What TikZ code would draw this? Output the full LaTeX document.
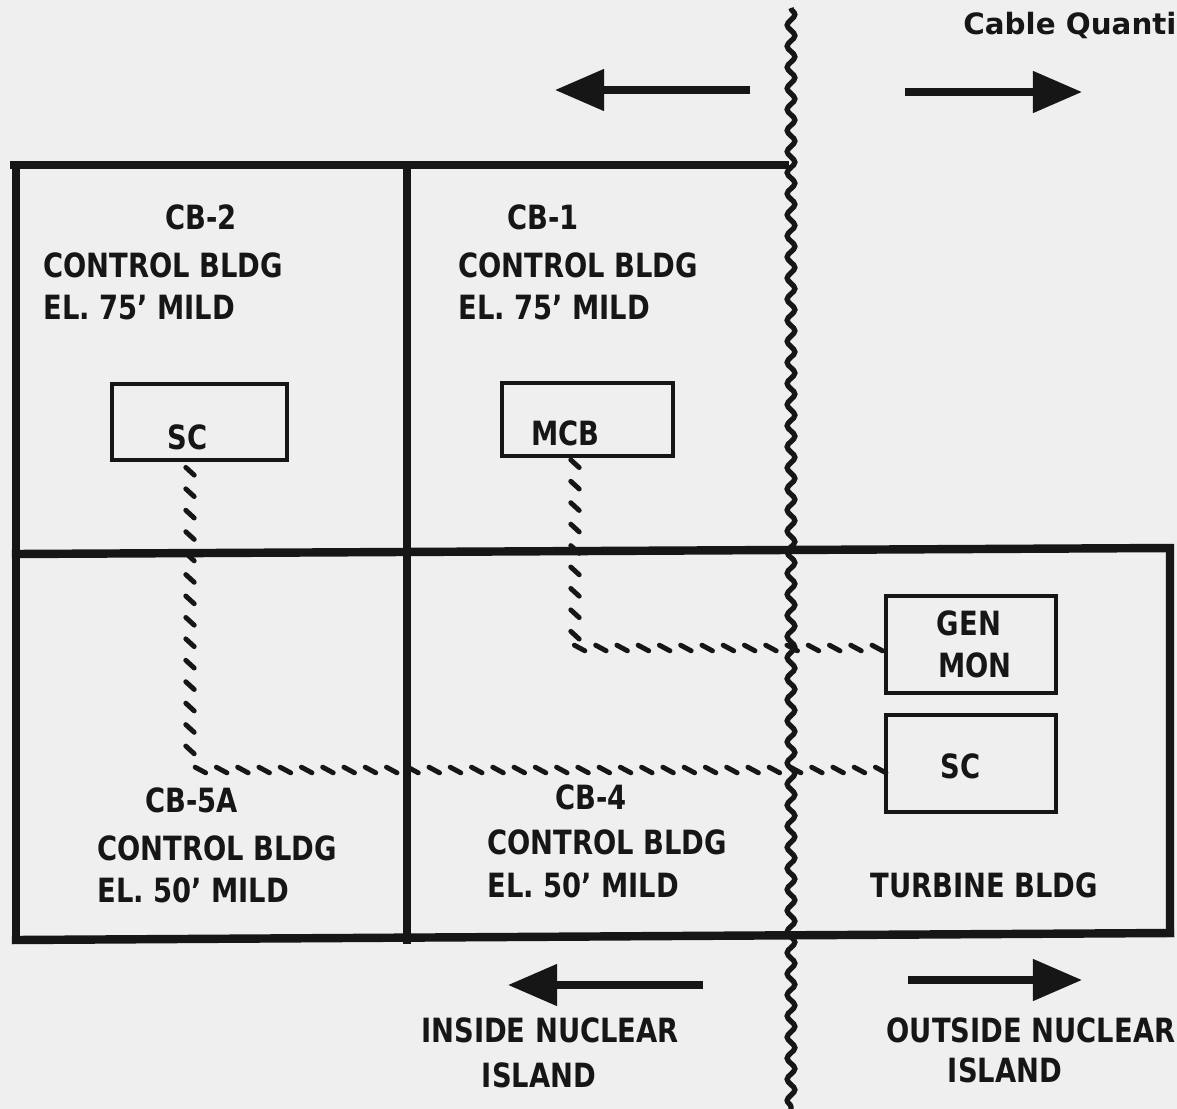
\documentclass[tikz,border=0pt]{standalone}
\usepackage{fontspec}
\setmainfont{DejaVu Sans}[FakeStretch=0.82]
\newfontfamily\capfont{DejaVu Sans}
\usetikzlibrary{arrows.meta,decorations.pathmorphing,decorations.markings}
\definecolor{paper}{RGB}{239,239,239}
\definecolor{ink}{RGB}{22,22,22}
\begin{document}
\begin{tikzpicture}[x=0.02cm,y=-0.02cm,
  wall/.style={draw=ink,line width=4.8pt,line cap=rect},
  boxnode/.style={draw=ink,line width=2.3pt,rectangle,inner sep=0pt},
  lbl/.style={anchor=west,inner sep=0pt,text=ink,font=\bfseries\fontsize{19}{22}\selectfont},
  clbl/.style={anchor=center,inner sep=0pt,text=ink,font=\bfseries\fontsize{19}{22}\selectfont},
  bigarrow/.style={draw=ink,line width=4pt,-{Triangle[length=28pt,width=23pt]}},
  vcable/.style={decorate,decoration={markings,mark=between positions 0.03 and 1 step 12.2pt with {\pgftransformresetnontranslations\draw[ink,line width=2.8pt,line cap=round] (-2.4pt,2.2pt)--(2.4pt,-2.2pt);}}},
  hcable/.style={decorate,decoration={markings,mark=between positions 0.015 and 1 step 12.1pt with {\pgftransformresetnontranslations\draw[ink,line width=2.8pt,line cap=round] (-3pt,1.6pt)--(3pt,-1.6pt);}}},
  wavy/.style={draw=ink,line width=3pt,decorate,decoration={snake,segment length=12pt,amplitude=2.2pt}}
]
\fill[paper] (0,0) rectangle (1177,1109);
\useasboundingbox (0,0) rectangle (1177,1109);

% building walls
\draw[wall] (14,165) -- (785,165);
\draw[wall] (16,165) -- (16,940);
\draw[wall] (16,940) -- (1170,933);
\draw[wall] (16,554) -- (1170,548) -- (1170,933);
\draw[wall] (407,165) -- (407,940);

% equipment boxes
\node[boxnode,minimum width=3.5cm,minimum height=1.52cm] (sc2) at (199.5,422) {};
\node[boxnode,minimum width=3.42cm,minimum height=1.46cm] (mcb) at (587.5,419.5) {};
\node[boxnode,minimum width=3.4cm,minimum height=1.94cm] (gen) at (971,644.5) {};
\node[boxnode,minimum width=3.4cm,minimum height=1.94cm] (sc1) at (971,763.5) {};

% box texts
\node[lbl] (tsc2) at (167,437) {SC};
\node[lbl] (tmcb) at (531,433) {MCB};
\node[clbl] (tgen) at (969,623) {GEN};
\node[clbl] (tmon) at (975,665) {MON};
\node[lbl] (tsc1) at (940,766) {SC};

% cables
\coordinate (c1) at (190,770);
\coordinate (c2) at (575,648);
\path[vcable] (sc2.south -| c1) -- (c1);
\path[hcable] (c1) -- (sc1.west |- c1);
\path[vcable] (mcb.south -| c2) -- (c2);
\path[hcable] (c2) -- (gen.west |- c2);

% boundary
\coordinate (w1) at (791,8);
\coordinate (w2) at (791,1112);
\draw[wavy] (w1) -- (w2);

% arrows
\coordinate (a1s) at (750,90); \coordinate (a1e) at (555,90);
\coordinate (a2s) at (905,92); \coordinate (a2e) at (1082,92);
\coordinate (a3s) at (703,985); \coordinate (a3e) at (508,985);
\coordinate (a4s) at (908,980); \coordinate (a4e) at (1082,980);
\draw[bigarrow] (a1s) -- (a1e);
\draw[bigarrow] (a2s) -- (a2e);
\draw[bigarrow] (a3s) -- (a3e);
\draw[bigarrow] (a4s) -- (a4e);

% title
\node[anchor=west,inner sep=0pt,text=ink,font=\capfont\bfseries\fontsize{16.7}{20}\selectfont] (title) at (963,25) {Cable Quanti};

% room labels
\node[lbl] (cb2a) at (165,217) {CB-2};
\node[lbl] (cb2b) at (43,265) {CONTROL BLDG};
\node[lbl] (cb2c) at (43,308) {EL. 75' MILD};
\node[lbl] (cb1a) at (507,217) {CB-1};
\node[lbl] (cb1b) at (458,265) {CONTROL BLDG};
\node[lbl] (cb1c) at (458,308) {EL. 75' MILD};
\node[lbl] (cb5a) at (145,800) {CB-5A};
\node[lbl] (cb5b) at (97,848) {CONTROL BLDG};
\node[lbl] (cb5c) at (97,890) {EL. 50' MILD};
\node[lbl] (cb4a) at (555,797) {CB-4};
\node[lbl] (cb4b) at (487,842) {CONTROL BLDG};
\node[lbl] (cb4c) at (487,885) {EL. 50' MILD};
\node[lbl] (turb) at (870,885) {TURBINE BLDG};

\node[clbl] (in1) at (550,1030) {INSIDE NUCLEAR};
\node[clbl] (in2) at (539,1075) {ISLAND};
\node[clbl] (out1) at (1031,1030) {OUTSIDE NUCLEAR};
\node[clbl] (out2) at (1005,1070) {ISLAND};
\end{tikzpicture}
\end{document}
